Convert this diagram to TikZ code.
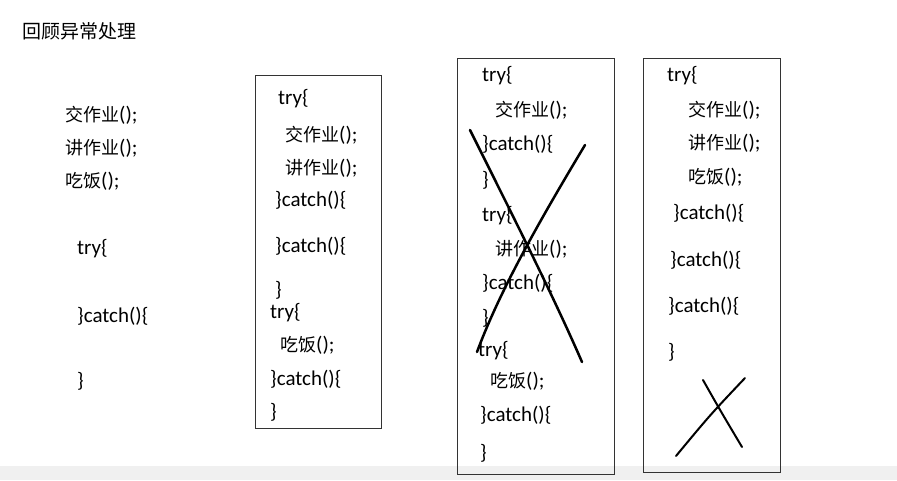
\documentclass[tikz,border=0pt]{standalone}
\usepackage{fontspec}
\setmainfont{Carlito}
\newfontfamily\cjkf{Noto Sans CJK SC}
\newcommand{\cj}[1]{{\cjkf\fontsize{18}{18}\selectfont #1}}
\begin{document}
\begin{tikzpicture}[x=1pt,y=-1pt,
  t/.style={anchor=west,inner sep=0pt,font=\fontsize{21}{21}\selectfont},
  box/.style={draw=black!80,line width=1pt},
  cross/.style={line width=2.5pt,line cap=round}]
\useasboundingbox (0,0) rectangle (897,480);
\fill[black!6] (0,466) rectangle (897,480);
\node[anchor=west,inner sep=0pt] (title) at (22,31) {{\cjkf\fontsize{19}{19}\selectfont 回顾异常处理}};
% left column
\node[t] (l1) at (65,115) {\cj{交作业}();};
\node[t] (l2) at (65,148) {\cj{讲作业}();};
\node[t] (l3) at (65,181) {\cj{吃饭}();};
\node[t] (l4) at (77,249) {try\{};
\node[t] (l5) at (77,316) {\}catch()\{};
\node[t] (l6) at (77,381) {\}};
% box 1
\draw[box] (255,75) rectangle (381,428);
\node[t] (a1) at (278,99) {try\{};
\node[t] (a2) at (285,135) {\cj{交作业}();};
\node[t] (a3) at (285,168) {\cj{讲作业}();};
\node[t] (a4) at (275,200) {\}catch()\{};
\node[t] (a5) at (275,246) {\}catch()\{};
\node[t] (a6) at (275,290) {\}};
\node[t] (a7) at (270,313) {try\{};
\node[t] (a8) at (280,345) {\cj{吃饭}();};
\node[t] (a9) at (270,379) {\}catch()\{};
\node[t] (a10) at (270,412) {\}};
% box 2
\draw[box] (457,58) rectangle (614,474);
\node[t] (b1) at (482,76) {try\{};
\node[t] (b2) at (495,110) {\cj{交作业}();};
\node[t] (b3) at (482,144) {\}catch()\{};
\node[t] (b4) at (482,180) {\}};
\node[t] (b5) at (482,216) {try\{};
\node[t] (b6) at (495,249) {\cj{讲作业}();};
\node[t] (b7) at (482,283) {\}catch()\{};
\node[t] (b8) at (482,318) {\}};
\node[t] (b9) at (478,351) {try\{};
\node[t] (b10) at (490,381) {\cj{吃饭}();};
\node[t] (b11) at (480,415) {\}catch()\{};
\node[t] (b12) at (480,453) {\}};
\draw[cross] (470,130) .. controls (520,230) and (555,300) .. (582,362);
\draw[cross] (585,145) .. controls (540,220) and (500,290) .. (477,352);
% box 3
\draw[box] (643,58) rectangle (780,472);
\node[t] (c1) at (667,76) {try\{};
\node[t] (c2) at (688,110) {\cj{交作业}();};
\node[t] (c3) at (688,143) {\cj{讲作业}();};
\node[t] (c4) at (688,177) {\cj{吃饭}();};
\node[t] (c5) at (673,213) {\}catch()\{};
\node[t] (c6) at (670,260) {\}catch()\{};
\node[t] (c7) at (668,306) {\}catch()\{};
\node[t] (c8) at (668,352) {\}};
\draw[cross,line width=2pt] (703,380) .. controls (720,410) .. (742,447);
\draw[cross,line width=2pt] (745,378) .. controls (710,415) .. (676,456);
\end{tikzpicture}
\end{document}
